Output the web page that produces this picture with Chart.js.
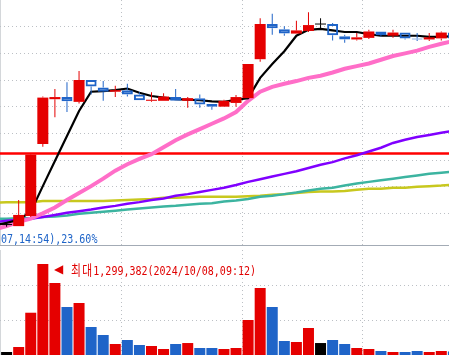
<!DOCTYPE html>
<html><head><meta charset="utf-8">
<script src="https://cdn.jsdelivr.net/npm/chart.js@4.4.0/dist/chart.umd.min.js"></script>
<style>
html,body{margin:0;padding:0;background:#fff;}
#wrap{position:relative;width:449px;height:355px;overflow:hidden;background:#fff;}
#pbox{position:absolute;left:0;top:0;width:449px;height:245px;}
#vbox{position:absolute;left:0;top:250px;width:449px;height:105px;}
#sep{position:absolute;left:0;top:245px;width:449px;height:1px;background:#a3abb5;}
.lbl{position:absolute;white-space:nowrap;font-family:"DejaVu Sans Mono","Noto Sans CJK KR",monospace;font-size:13px;line-height:13px;transform:scaleX(0.77);transform-origin:0 0;}
.ko{font-size:14px;letter-spacing:1.6px;}
#tri{position:absolute;left:54px;top:262px;font-family:"DejaVu Sans";font-size:12px;line-height:14px;color:#e00000;}
</style></head><body>
<div id="wrap">
  <div id="pbox"><canvas id="price"></canvas></div>
  <div id="sep"></div>
  <div id="vbox"><canvas id="vol"></canvas></div>
  <div class="lbl" id="lowTxt" style="left:1px;top:232px;color:#1e64c8;"></div>
  <div id="tri">◀</div>
  <div class="lbl" id="maxTxt" style="left:71px;top:263.5px;color:#e00000;"></div>
</div>
<script>
// ---- data (index 0 = previous bar, just off the left edge) ----
const categories = [0,1,2,3,4,5,6,7,8,9,10,11,12,13,14,15,16,17,18,19,20,21,22,23,24,25,26,27,28,29,30,31,32,33,34,35,36,37,38];
const open  = [null,1628,1626,1645,1780,1864,1868,1859,1900,1886,1878,1881,1873,1861,1861,1868,1861,1866,1855,1850,1857,1866,1939,2005,1995,1987,1992,2004,2005,1982,1976,1979,1991,1983,1989,1978,1976,1978,1989];
const high  = [null,1632,1675,1761,1869,1883,1896,1917,1900,1898,1889,1893,1877,1877,1875,1883,1868,1873,1855,1863,1872,1930,2016,2024,2001,2011,2027,2016,2007,1985,1988,1994,1991,1994,1989,1988,1988,1991,1992];
const low   = [null,1625,1626,1643,1775,1830,1840,1856,1873,1861,1868,1869,1862,1859,1861,1861,1848,1848,1844,1850,1850,1866,1934,1985,1983,1987,1990,1997,1974,1970,1974,1977,1981,1979,1976,1973,1973,1974,1975];
const close = [null,1628,1647,1760,1867,1868,1860,1900,1888,1878,1881,1873,1862,1863,1869,1861,1866,1854,1850,1861,1868,1930,2005,1997,1987,1993,2003,2004,1984,1976,1980,1991,1984,1989,1978,1976,1980,1989,1978];
const volume = [null,43000,114000,604000,1299382,1029000,686000,743000,400000,286000,157000,214000,143000,129000,86000,157000,171000,100000,100000,86000,100000,500000,957000,686000,200000,186000,386000,171000,214000,157000,100000,86000,57000,43000,43000,57000,43000,57000,50000];
const ma5   = [1628,1632,1638,1653,1701,1748,1795,1842,1878,1879,1881,1884,1876,1870,1867,1864,1863,1862,1860,1859,1863,1866,1904,1930,1954,1983,1994,1996,1993,1990,1990,1986,1983,1983,1983,1983,1981,1981,1982];
const ma20  = [1620,1626,1634,1640,1650,1661,1675,1688,1701,1715,1730,1742,1752,1761,1774,1787,1798,1808,1818,1828,1840,1861,1878,1887,1893,1898,1904,1908,1914,1921,1926,1931,1938,1945,1950,1955,1962,1968,1973];
const ma60  = [1634,1636,1638,1640,1643,1647,1651,1654,1657,1661,1664,1668,1671,1675,1678,1683,1686,1690,1694,1698,1703,1709,1714,1719,1724,1729,1735,1741,1746,1753,1759,1766,1773,1782,1788,1793,1797,1801,1805];
const ma120 = [1640,1640,1641,1641,1643,1644,1646,1649,1651,1653,1655,1657,1659,1661,1663,1664,1666,1668,1669,1672,1674,1677,1681,1683,1686,1689,1693,1696,1698,1702,1706,1709,1712,1715,1718,1721,1724,1726,1728];
const ma240 = [1670,1671,1671,1671,1673,1673,1673,1673,1673,1673,1674,1675,1676,1677,1679,1679,1680,1681,1681,1681,1681,1682,1683,1685,1686,1688,1690,1691,1691,1692,1694,1696,1696,1698,1698,1700,1701,1702,1704];
const refPrice = 1762;
const priceTicks = [1650,1700,1750,1800,1850,1900,1950,2000];
const volumeTicks = [500000,1000000];
const xGridAt = [0.5,10.5,20.5,30.5];
const maxVolTime = '2024/10/08,09:12';
const lowNote = '07,14:54),23.60%';

// ---- view ----
const X_MIN = 0.4534, X_MAX = 37.638;
const P_MIN = 1590.625, P_MAX = 2050;
const RED = '#e50000', BLUE = '#1f64c8', BLACK = '#000000', GRID = '#bcc0c5';
const DOTS = [1,3];

const dirColor = i => close[i] > open[i] ? RED : (close[i] < open[i] ? BLUE : BLACK);
const idx = categories.filter(i => open[i] != null);
const upIdx = idx.filter(i => high[i] > Math.max(open[i], close[i]));
const dnIdx = idx.filter(i => low[i] < Math.min(open[i], close[i]));

const lineDs = (arr, color, w, order) => ({
  type:'line', data: categories.map(i => ({x:i, y:arr[i]})), borderColor: color,
  borderWidth: w, pointRadius: 0, tension: 0, order: order, fill: false
});

const xDash = c => (c.tick && c.tick.value < 1) ? [] : DOTS;
const xScale = () => ({
  type:'linear', min:X_MIN, max:X_MAX, offset:false,
  ticks:{display:false},
  grid:{color: c => (c.tick && c.tick.value < 1) ? '#d4d7da' : GRID, drawTicks:false, offset:false, borderDash: DOTS},
  border:{display:false, dash: xDash},
  afterBuildTicks: s => { s.ticks = xGridAt.map(v => ({value:v})); }
});
const yScale = (min, max, ticks) => ({
  type:'linear', min:min, max:max, beginAtZero:false,
  ticks:{display:false}, grid:{color:GRID, drawTicks:false, borderDash: DOTS},
  border:{display:false, dash: DOTS},
  afterBuildTicks: s => { s.ticks = ticks.map(v => ({value:v})); }
});

const common = {
  responsive:true, maintainAspectRatio:false, animation:false, devicePixelRatio:1,
  layout:{padding:0},
  datasets:{ bar:{ grouped:false, borderSkipped:false, inflateAmount:0 } },
  plugins:{ legend:{display:false}, tooltip:{enabled:false} }
};

new Chart(document.getElementById('price'), {
  type:'bar',
  data:{ datasets:[
    { type:'line', data:[{x:X_MIN-1,y:refPrice},{x:X_MAX+1,y:refPrice}], borderColor:'#ff0000', borderWidth:2.5, pointRadius:0, order:20 },
    lineDs(ma240, '#c8c81e', 2.5, 19),
    lineDs(ma120, '#3cb4a0', 2.5, 18),
    lineDs(ma60, '#8000ff', 2.5, 17),
    lineDs(ma20, '#ff6ec8', 4, 16),
    lineDs(ma5, '#000000', 2.2, 15),
    { data: upIdx.map(i => ({x:i, y:[Math.max(open[i],close[i]), high[i]]})),
      backgroundColor: upIdx.map(dirColor), barThickness:1, order:3 },
    { data: dnIdx.map(i => ({x:i, y:[low[i], Math.min(open[i],close[i])]})),
      backgroundColor: dnIdx.map(dirColor), barThickness:1, order:3 },
    { data: idx.map(i => ({x:i, y:[open[i], close[i]]})),
      backgroundColor: idx.map(i => dirColor(i) === BLUE ? 'rgba(0,0,0,0)' : dirColor(i)),
      borderColor: idx.map(dirColor),
      borderWidth: idx.map(i => dirColor(i) === BLUE ? 2 : 0),
      barThickness:11, minBarLength:1, order:1 }
  ]},
  options: Object.assign({}, common, {
    scales:{ x: xScale(), y: yScale(P_MIN, P_MAX, priceTicks) }
  })
});

new Chart(document.getElementById('vol'), {
  type:'bar',
  data:{ datasets:[
    { data: idx.map(i => ({x:i, y:volume[i]})), backgroundColor: idx.map(dirColor), barThickness:11 }
  ]},
  options: Object.assign({}, common, {
    scales:{ x: xScale(), y: yScale(0, 1500000, volumeTicks) }
  })
});

const maxVol = Math.max(...volume.filter(v => v != null));
document.getElementById('maxTxt').innerHTML = '<span class="ko">최대</span>' + maxVol.toLocaleString('en-US') + '(' + maxVolTime + ')';
document.getElementById('lowTxt').textContent = lowNote;
</script>
</body></html>
